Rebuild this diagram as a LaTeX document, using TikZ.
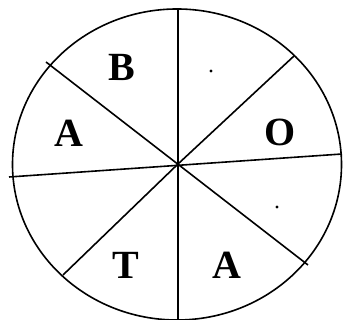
\documentclass[tikz,border=0pt]{standalone}
\usepackage{fontspec}
\setmainfont{Liberation Serif}

\begin{document}
\begin{tikzpicture}[x=1pt, y=1pt, line width=1.6pt,
  letter/.style={font=\fontsize{40}{44}\selectfont\bfseries}]
  \useasboundingbox (0, 0) rectangle (343, 320);

  % Disc
  \draw (177, 155.5) ellipse (164.5 and 155.5);

  % Centre and end points of the cuts
  \coordinate (c) at (178, 156);
  \coordinate (top) at (178, 311);
  \coordinate (bot) at (178, -2);
  \coordinate (ne) at (294, 264);
  \coordinate (nw) at (46, 258);
  \coordinate (se) at (308, 55);
  \coordinate (w) at (9, 143);
  \coordinate (e) at (342, 166);
  \coordinate (sw) at (63, 45);

  \draw (top) -- (bot);
  \draw (nw) -- (se);
  \draw (w) -- (e);
  \draw (c) -- (ne);
  \draw (c) -- (sw);

  % Letters
  \node[letter] (b) at (122, 253) {B};
  \node[letter] (a1) at (69, 187) {A};
  \node[letter] (o) at (280, 188) {O};
  \node[letter] (t) at (126, 55) {T};
  \node[letter] (a2) at (227, 55) {A};

  % Dots
  \fill (211, 249) circle (1.7);
  \fill (277, 113) circle (1.7);
\end{tikzpicture}
\end{document}
